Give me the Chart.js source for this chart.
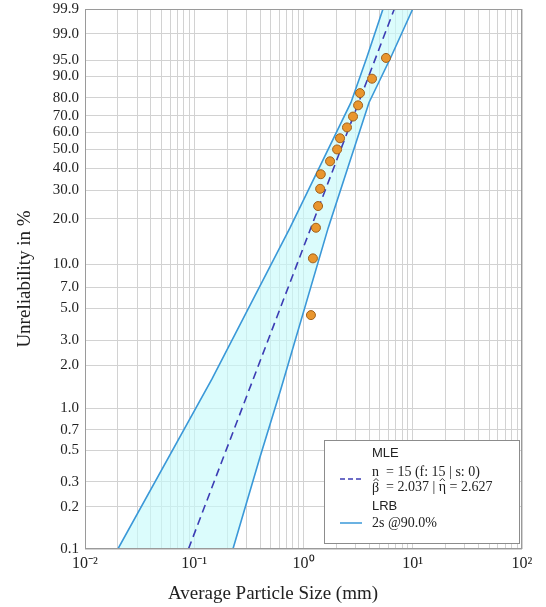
<!DOCTYPE html>
<html>
<head>
<meta charset="utf-8">
<script src="https://cdn.jsdelivr.net/npm/chart.js@4/dist/chart.umd.min.js"></script>
<style>
  html, body { margin: 0; padding: 0; background: #fff; }
  canvas { display: block; }
</style>
</head>
<body>
<canvas id="chart" width="546" height="607"></canvas>
<script>
// observed failures: size (mm) vs median rank (%)
const sizes = [1.17, 1.22, 1.30, 1.36, 1.42, 1.44, 1.75, 2.03, 2.16, 2.50, 2.84, 3.16, 3.29, 4.24, 5.69];
const ranks = [4.5, 11.0, 17.5, 24.0, 30.5, 37.0, 43.5, 50.0, 56.5, 63.0, 69.5, 76.0, 82.5, 89.0, 95.5];

// MLE fit line end points
const mleX = [0.0885, 6.78];
const mleY = [0.1, 99.9];

// likelihood ratio bounds (90%)
const lowerBoundX = [0.020, 0.145, 0.75, 2.72, 3.81, 5.34];
const lowerBoundY = [0.1, 1.6, 17.4, 77.6, 95.7, 99.9];
const upperBoundX = [0.226, 0.40, 0.62, 1.68, 3.98, 6.32, 10.0];
const upperBoundY = [0.1, 0.45, 1.36, 17.4, 77.6, 95.7, 99.9];

const yTicks = [0.1, 0.2, 0.3, 0.5, 0.7, 1, 2, 3, 5, 7, 10, 20, 30, 40, 50, 60, 70, 80, 90, 95, 99, 99.9];
const xTickLabels = {'-2': '10⁻²', '-1': '10⁻¹', '0': '10⁰', '1': '10¹', '2': '10²'};

const legendLines = {
  fit: 'MLE',
  n: ['n', '= 15 (f: 15 | s: 0)'],
  est: ['β', '= 2.037 | ', 'η', ' = 2.627'],
  bound: 'LRB',
  conf: '2s @90.0%'
};

const wb = p => Math.log(-Math.log(1 - p / 100));
const wbInv = t => 100 * (1 - Math.exp(-Math.exp(t)));

class WeibullScale extends Chart.Scale {
  determineDataLimits() {
    this.min = this.options.min;
    this.max = this.options.max;
  }
  buildTicks() {
    return yTicks.map(v => ({value: v}));
  }
  configure() {
    super.configure();
    this._startValue = wb(this.min);
    this._valueRange = wb(this.max) - wb(this.min);
  }
  getPixelForValue(v) {
    return this.getPixelForDecimal((wb(v) - this._startValue) / this._valueRange);
  }
  getValueForPixel(p) {
    return wbInv(this._startValue + this.getDecimalForPixel(p) * this._valueRange);
  }
  getLabelForValue(v) {
    return v.toFixed(1);
  }
}
WeibullScale.id = 'weibull';
WeibullScale.defaults = {};
Chart.register(WeibullScale);

const pts = (xs, ys) => xs.map((x, i) => ({x: x, y: ys[i]}));

// closed band: up the lower bound, back down the upper bound
const bandShape = pts(lowerBoundX, lowerBoundY)
  .concat(pts(upperBoundX, upperBoundY).reverse());

const serif = '"Liberation Serif", "Times New Roman", serif';
const sans = '"Liberation Sans", Arial, sans-serif';
const boundBlue = '#3a98d8';

const decorations = {
  id: 'decorations',
  afterDraw(chart) {
    const ctx = chart.ctx;
    const a = chart.chartArea;
    ctx.save();
    // frame
    ctx.strokeStyle = '#9a9a9a';
    ctx.lineWidth = 1;
    ctx.strokeRect(a.left + 0.5, a.top + 0.5, a.right - a.left - 1, a.bottom - a.top - 1);

    // axis titles
    ctx.fillStyle = '#222';
    ctx.font = '19px ' + serif;
    ctx.textAlign = 'center';
    ctx.textBaseline = 'middle';
    ctx.fillText('Average Particle Size (mm)', 273, 594);
    ctx.translate(25, (a.top + a.bottom) / 2);
    ctx.rotate(-Math.PI / 2);
    ctx.fillText('Unreliability in %', 0, 0);
    ctx.setTransform(1, 0, 0, 1, 0, 0);

    // legend box
    const bx = 324, by = 440, bw = 195, bh = 103;
    ctx.fillStyle = '#fff';
    ctx.fillRect(bx, by, bw, bh);
    ctx.strokeStyle = '#8c8c8c';
    ctx.strokeRect(bx + 0.5, by + 0.5, bw, bh);

    ctx.textAlign = 'left';
    ctx.fillStyle = '#222';
    ctx.font = '13px ' + sans;
    ctx.fillText(legendLines.fit, 372, 453);
    ctx.fillText(legendLines.bound, 372, 506);
    ctx.font = '14px ' + serif;
    ctx.fillText(legendLines.n[0], 372, 472);
    ctx.fillText(legendLines.n[1], 386, 472);
    ctx.fillText(legendLines.conf, 372, 523);

    // estimates line, with hats over the greek letters
    const y = 487;
    const hat = cx => {
      ctx.save();
      ctx.strokeStyle = '#222';
      ctx.lineWidth = 0.9;
      ctx.beginPath();
      ctx.moveTo(cx - 2.5, y - 6);
      ctx.lineTo(cx, y - 8.5);
      ctx.lineTo(cx + 2.5, y - 6);
      ctx.stroke();
      ctx.restore();
    };
    const e = legendLines.est;
    let x = 372;
    ctx.fillText(e[0], x, y + 1);
    hat(x + ctx.measureText(e[0]).width / 2 + 0.5);
    x = 386;
    ctx.fillText(e[1], x, y);
    x += ctx.measureText(e[1]).width;
    ctx.fillText(e[2], x, y);
    hat(x + ctx.measureText(e[2]).width / 2);
    x += ctx.measureText(e[2]).width;
    ctx.fillText(e[3], x, y);

    ctx.lineWidth = 1.5;
    ctx.strokeStyle = '#3c3cb4';
    ctx.setLineDash([5, 3]);
    ctx.beginPath();
    ctx.moveTo(340, 479);
    ctx.lineTo(362, 479);
    ctx.stroke();
    ctx.setLineDash([]);
    ctx.strokeStyle = boundBlue;
    ctx.beginPath();
    ctx.moveTo(340, 523);
    ctx.lineTo(362, 523);
    ctx.stroke();
    ctx.restore();
  }
};

const boundLine = (label, data) => ({
  label: label,
  data: data,
  showLine: true,
  pointRadius: 0,
  borderColor: boundBlue,
  borderWidth: 1.6,
  order: 2
});

new Chart(document.getElementById('chart').getContext('2d'), {
  type: 'scatter',
  data: {
    datasets: [
      {
        label: 'Data',
        data: pts(sizes, ranks),
        pointRadius: 4.5,
        pointBackgroundColor: '#e9962e',
        pointBorderColor: '#a0601a',
        pointBorderWidth: 1,
        order: 0
      },
      {
        label: 'MLE',
        data: pts(mleX, mleY),
        showLine: true,
        pointRadius: 0,
        borderColor: '#3c3cb4',
        borderWidth: 1.6,
        borderDash: [8, 5],
        order: 1
      },
      boundLine('LRB lower', pts(lowerBoundX, lowerBoundY)),
      boundLine('LRB upper', pts(upperBoundX, upperBoundY)),
      {
        label: 'band',
        data: bandShape,
        showLine: true,
        pointRadius: 0,
        borderWidth: 0,
        borderColor: 'rgba(0,0,0,0)',
        backgroundColor: 'rgba(200, 250, 250, 0.65)',
        fill: 'shape',
        order: 3
      }
    ]
  },
  options: {
    responsive: false,
    animation: false,
    devicePixelRatio: 1,
    layout: { padding: { top: 9, right: 24, left: 0, bottom: 0 } },
    plugins: {
      legend: { display: false },
      tooltip: { enabled: false }
    },
    scales: {
      x: {
        type: 'logarithmic',
        min: 0.01,
        max: 100,
        afterBuildTicks: s => {
          const t = [];
          for (let e = -2; e <= 1; e++) {
            for (let m = 1; m <= 9; m++) t.push({value: Number((m * Math.pow(10, e)).toPrecision(3))});
          }
          t.push({value: 100});
          s.ticks = t;
        },
        afterFit: s => { s.height = 58; s.paddingLeft = 0; s.paddingRight = 0; },
        grid: { color: '#d2d2d2', drawTicks: false },
        border: { display: false },
        ticks: {
          autoSkip: false,
          maxRotation: 0,
          padding: 5,
          color: '#222',
          font: { family: serif, size: 16 },
          callback: v => {
            const e = Math.round(Math.log10(v));
            return Math.abs(Math.log10(v) - e) < 1e-9 ? xTickLabels[String(e)] : '';
          }
        }
      },
      y: {
        type: 'weibull',
        min: 0.1,
        max: 99.9,
        afterFit: s => { s.width = 85; s.paddingTop = 0; s.paddingBottom = 0; },
        grid: { color: '#d2d2d2', drawTicks: false },
        border: { display: false },
        ticks: {
          autoSkip: false,
          padding: 6,
          color: '#222',
          font: { family: serif, size: 15 },
          callback: v => v.toFixed(1)
        }
      }
    }
  },
  plugins: [decorations]
});
</script>
</body>
</html>
